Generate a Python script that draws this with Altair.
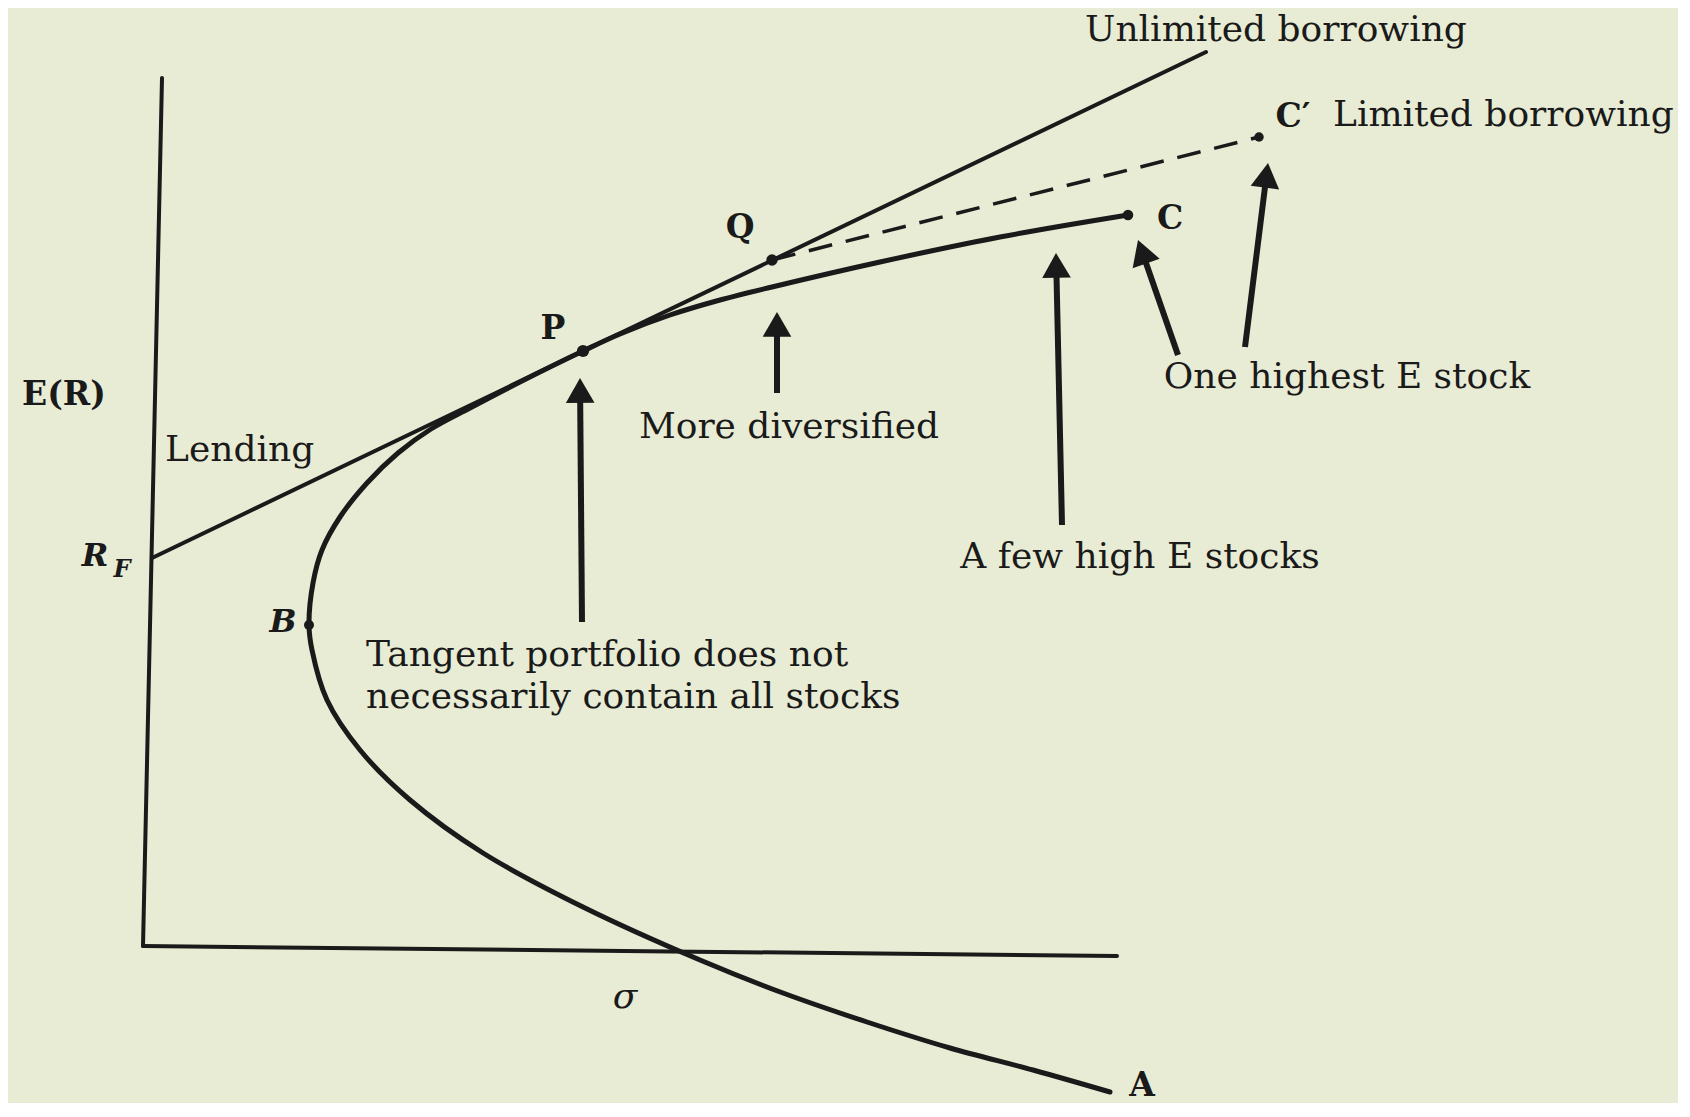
import math
import altair as alt
import pandas as pd

# ---- diagram values (sigma on x, E(R) on y, arbitrary units) ----
axis_y_sigma = [0.0, 0.38]
axis_y_er = [0.0, 17.36]
axis_x_sigma = [0.0, 19.48]
axis_x_er = [0.0, -0.2]

cml_sigma = [0.18, 21.26]          # R_F -> P -> Q -> unlimited borrowing
cml_er = [7.76, 17.88]

limited_sigma = [12.58, 22.32]     # Q -> C' (dashed)
limited_er = [13.72, 16.18]

frontier_sigma = [19.34, 17.80, 16.14, 14.48, 12.80, 11.14, 8.80, 6.80, 5.34, 4.34, 3.68,
                  3.38, 3.32, 3.40, 3.58, 3.94, 4.48, 5.10, 5.76, 6.54, 7.54, 8.80,
                  9.54, 10.54, 11.54, 12.58, 14.74, 17.14, 19.70]
frontier_er = [-2.92, -2.48, -2.04, -1.52, -0.94, -0.28, 0.78, 1.86, 2.92, 3.92, 4.92,
               5.92, 6.42, 7.26, 7.92, 8.58, 9.26, 9.86, 10.34, 10.76, 11.28, 11.90,
               12.24, 12.62, 12.92, 13.18, 13.68, 14.18, 14.62]

point_names = ["P", "Q", "C", "C′", "B"]
point_sigma = [8.80, 12.58, 19.70, 22.32, 3.32]
point_er = [11.90, 13.72, 14.62, 16.18, 6.42]
point_size = [150, 130, 110, 90, 100]

arrow_tail_sigma = [8.78, 12.68, 18.38, 20.70, 22.04]
arrow_tail_er = [6.48, 11.06, 8.42, 11.82, 11.98]
arrow_tip_sigma = [8.74, 12.68, 18.26, 19.90, 22.50]
arrow_tip_er = [11.36, 12.68, 13.86, 14.12, 15.66]

regular_center_text = ["Unlimited borrowing", "More diversified", "A few high E stocks",
                       "One highest E stock"]
regular_center_sigma = [22.66, 12.92, 19.94, 24.08]
regular_center_er = [18.32, 10.38, 7.78, 11.38]

regular_left_text = ["Lending", "Limited borrowing", "Tangent portfolio does not",
                     "necessarily contain all stocks"]
regular_left_sigma = [0.44, 23.80, 4.46, 4.46]
regular_left_er = [9.92, 16.62, 5.82, 4.98]

bold_text = ["E(R)", "P", "Q", "C", "C′", "A"]
bold_sigma = [-1.58, 8.20, 11.94, 20.54, 23.00, 19.98]
bold_er = [11.02, 12.34, 14.36, 14.54, 16.58, -2.80]

bolditalic_text = ["R", "B"]
bolditalic_sigma = [-0.96, 2.80]
bolditalic_er = [7.80, 6.48]

sub_text = ["F"]
sub_sigma = [-0.42]
sub_er = [7.52]

italic_text = ["σ"]
italic_sigma = [9.64]
italic_er = [-1.02]

# ---- layout ----
W, H = 1670, 1092
X_DOM = [-2.7, 30.7]
Y_DOM = [-3.08, 18.76]
PX_X = W / (X_DOM[1] - X_DOM[0])
PX_Y = H / (Y_DOM[1] - Y_DOM[0])
INK = "#1a1a1a"
BG = "#e8ecd4"
FONT = "DejaVu Serif"
HEAD_SIZE = 820

xs = alt.Scale(domain=X_DOM, nice=False, zero=False)
ys = alt.Scale(domain=Y_DOM, nice=False, zero=False)


def X(f):
    return alt.X(f, type="quantitative", scale=xs, axis=None)


def Y(f):
    return alt.Y(f, type="quantitative", scale=ys, axis=None)


def seg(sig, er):
    return pd.DataFrame({"s": [sig[0]], "e": [er[0]], "s2": [sig[1]], "e2": [er[1]]})


def rule(df, width, dash=None):
    kw = dict(color=INK, strokeWidth=width, strokeCap="round")
    if dash:
        kw["strokeDash"] = dash
        kw["strokeCap"] = "butt"
    return alt.Chart(df).mark_rule(**kw).encode(
        x=X("s"), y=Y("e"), x2="s2", y2="e2")


layers = []
layers.append(rule(seg(axis_y_sigma, axis_y_er), 4))
layers.append(rule(seg(axis_x_sigma, axis_x_er), 4))
layers.append(rule(seg(cml_sigma, cml_er), 4))
layers.append(rule(seg(limited_sigma, limited_er), 3.5, dash=[24, 14]))

frontier = pd.DataFrame({"s": frontier_sigma, "e": frontier_er,
                         "o": list(range(len(frontier_sigma)))})
layers.append(alt.Chart(frontier).mark_line(
    color=INK, strokeWidth=5, interpolate="catmull-rom", strokeCap="round"
).encode(x=X("s"), y=Y("e"), order="o:Q"))

pts = pd.DataFrame({"n": point_names, "s": point_sigma, "e": point_er, "z": point_size})
layers.append(alt.Chart(pts).mark_point(
    filled=True, color=INK, opacity=1).encode(
    x=X("s"), y=Y("e"), size=alt.Size("z:Q", scale=None, legend=None)))

# arrows: shaft + rotated triangle head
h = math.sqrt(3) / 2 * math.sqrt(HEAD_SIZE) / 2
rows = []
for ts, te, ps, pe in zip(arrow_tail_sigma, arrow_tail_er, arrow_tip_sigma, arrow_tip_er):
    dx = (ps - ts) * PX_X
    dy = -(pe - te) * PX_Y
    L = math.hypot(dx, dy)
    ux, uy = dx / L, dy / L
    ang = math.degrees(math.atan2(ux, -uy)) % 360
    hs = ps - ux * h / PX_X
    he = pe + uy * h / PX_Y
    rows.append({"s": ts, "e": te, "s2": hs, "e2": he, "ang": ang})
arrows = pd.DataFrame(rows)
layers.append(alt.Chart(arrows).mark_rule(color=INK, strokeWidth=6).encode(
    x=X("s"), y=Y("e"), x2="s2", y2="e2"))
layers.append(alt.Chart(arrows).mark_point(
    shape="triangle-up", filled=True, color=INK, size=HEAD_SIZE, opacity=1
).encode(x=X("s2"), y=Y("e2"), angle=alt.Angle("ang:Q", scale=None)))


def text_layer(txt, sig, er, size, weight="normal", style="normal", align="center"):
    df = pd.DataFrame({"t": txt, "s": sig, "e": er})
    return alt.Chart(df).mark_text(
        font=FONT, fontSize=size, fontWeight=weight, fontStyle=style,
        align=align, baseline="middle", color=INK
    ).encode(x=X("s"), y=Y("e"), text="t:N")


layers.append(text_layer(regular_center_text, regular_center_sigma, regular_center_er, 36))
layers.append(text_layer(regular_left_text, regular_left_sigma, regular_left_er, 36, align="left"))
layers.append(text_layer(bold_text, bold_sigma, bold_er, 33, weight="bold"))
layers.append(text_layer(bolditalic_text, bolditalic_sigma, bolditalic_er, 32, weight="bold", style="italic"))
layers.append(text_layer(sub_text, sub_sigma, sub_er, 24, weight="bold", style="italic"))
layers.append(text_layer(italic_text, italic_sigma, italic_er, 36, style="italic"))

chart = alt.layer(*layers).properties(
    width=W, height=H, padding=0, background=BG
).configure_view(stroke=None, fill=BG)

chart.save("out.html", embed_options={"renderer": "svg", "actions": False})
